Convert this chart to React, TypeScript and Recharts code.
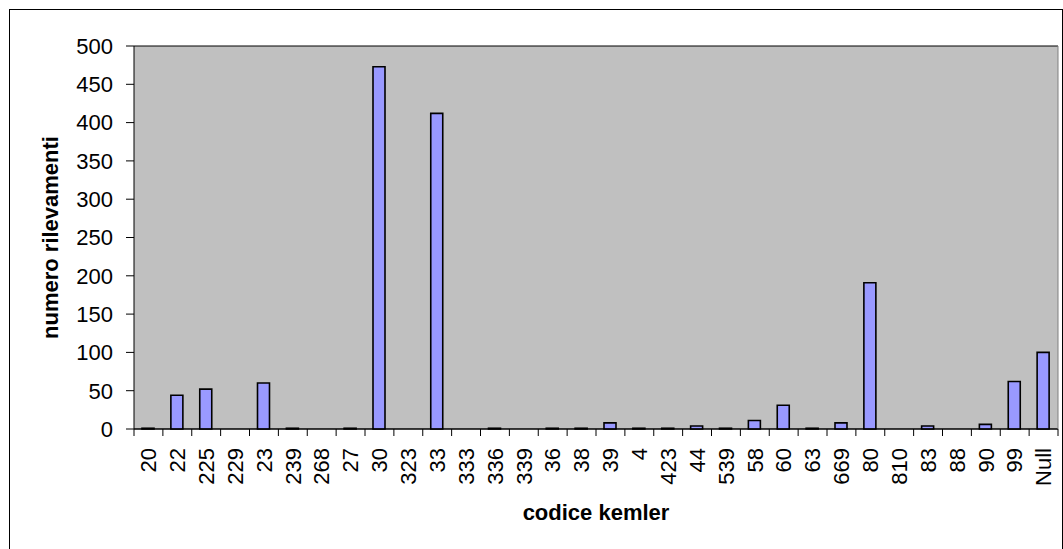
import React from 'react';
import { BarChart, Bar, XAxis, YAxis, CartesianGrid, Label } from 'recharts';

const codes = ['20','22','225','229','23','239','268','27','30','323','33','333','336','339','36','38','39','4','423','44','539','58','60','63','669','80','810','83','88','90','99','Null'];
const counts = [1,44,52,0,60,1,0,1,473,0,412,0,1,0,1,1,8,1,1,4,1,11,31,1,8,191,0,4,0,6,62,100];
const yTicks = [0,50,100,150,200,250,300,350,400,450,500];

const data = codes.map((c, i) => ({ code: c, count: counts[i] }));

const W = 1063;
const H = 549;
const FONT = '"Liberation Sans", Arial, sans-serif';

const XTick = (props: any) => {
  const { x, y, payload, index, width } = props;
  const step = width / codes.length;
  const ty = y + 19;
  return (
    <g>
      <line x1={x - step / 2} x2={x - step / 2} y1={y} y2={y + 7} stroke="#000" />
      {index === codes.length - 1 && (
        <line x1={x + step / 2} x2={x + step / 2} y1={y} y2={y + 7} stroke="#000" />
      )}
      <text
        x={x}
        y={ty}
        transform={`rotate(-90 ${x} ${ty})`}
        textAnchor="end"
        dy="0.35em"
        fontSize={22}
        fontFamily={FONT}
        fill="#000"
      >
        {payload.value}
      </text>
    </g>
  );
};

const YTitle = (props: any) => {
  const { viewBox } = props;
  const cx = 58;
  const cy = viewBox.y + viewBox.height / 2;
  return (
    <text
      x={cx}
      y={cy}
      transform={`rotate(-90 ${cx} ${cy})`}
      textAnchor="middle"
      fontSize={22}
      fontWeight="bold"
      fontFamily={FONT}
      fill="#000"
    >
      numero rilevamenti
    </text>
  );
};

const XTitle = (props: any) => {
  const { viewBox } = props;
  const cx = viewBox.x + viewBox.width / 2;
  return (
    <text
      x={cx}
      y={520}
      textAnchor="middle"
      fontSize={22}
      fontWeight="bold"
      fontFamily={FONT}
      fill="#000"
    >
      codice kemler
    </text>
  );
};

export default function App() {
  return (
    <div style={{ position: 'absolute', left: 0, top: 0, width: W, height: H, overflow: 'hidden', background: '#fff' }}>
      <div
        style={{
          position: 'absolute',
          left: 9,
          top: 9,
          width: 1054,
          height: 600,
          border: '1px solid #000',
          boxSizing: 'border-box',
        }}
      />
      <div style={{ position: 'absolute', left: 0, top: 0 }}>
        <BarChart
          width={W}
          height={H}
          data={data}
          margin={{ top: 46, right: 0, bottom: 0, left: 0 }}
          barSize={12}
          style={{ fontFamily: FONT }}
        >
          <CartesianGrid vertical={false} stroke="#000" fill="#C0C0C0" fillOpacity={1} />
          <XAxis
            dataKey="code"
            xAxisId="cat"
            interval={0}
            height={120}
            tickSize={0}
            tickMargin={0}
            tickLine={false}
            axisLine={{ stroke: '#000' }}
            tick={<XTick />}
          >
            <Label content={<XTitle />} />
          </XAxis>
          <YAxis
            yAxisId="left"
            width={134}
            domain={[0, 500]}
            ticks={yTicks}
            interval={0}
            tickSize={8}
            tickMargin={13}
            axisLine={{ stroke: '#000' }}
            tickLine={{ stroke: '#000' }}
            tick={{ fontSize: 22, fill: '#000', fontFamily: FONT }}
          >
            <Label content={<YTitle />} />
          </YAxis>
          <YAxis
            yAxisId="right"
            orientation="right"
            width={5}
            domain={[0, 500]}
            tick={false}
            tickLine={false}
            axisLine={{ stroke: '#808080' }}
          />
          <Bar
            dataKey="count"
            xAxisId="cat"
            yAxisId="left"
            fill="#9999FF"
            stroke="#000"
            strokeWidth={1.6}
            isAnimationActive={false}
          />
        </BarChart>
      </div>
    </div>
  );
}
